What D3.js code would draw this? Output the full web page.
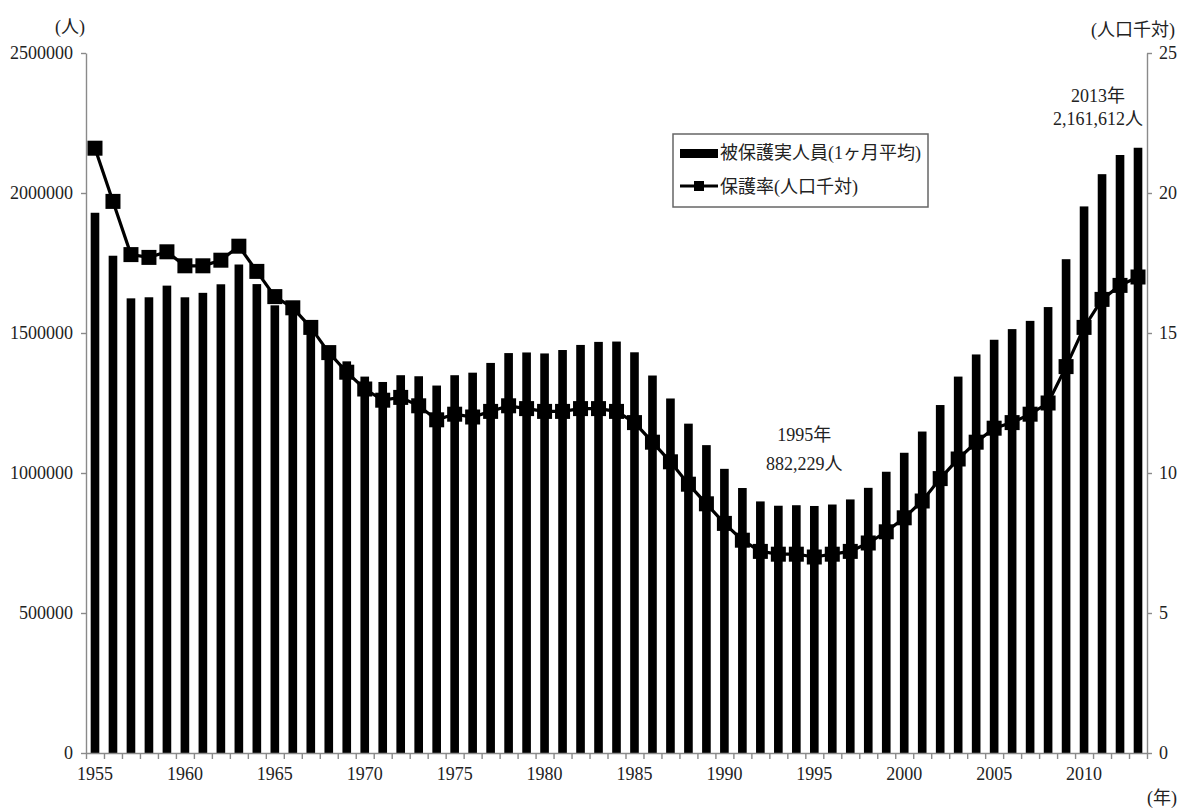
<!DOCTYPE html>
<html lang="ja">
<head>
<meta charset="utf-8">
<script src="https://cdn.jsdelivr.net/npm/d3@7"></script>
<style>
  html, body { margin: 0; padding: 0; background: #fff; }
  svg text { font-family: "Liberation Serif", "Noto Sans CJK JP", serif; fill: #222; }
</style>
</head>
<body>
<svg id="chart" width="1180" height="809"></svg>
<script>
// 生活保護 被保護実人員（1ヶ月平均）と保護率（人口千対）の推移
const years = d3.range(1955, 2014);

const recipients = [
  1929408, 1775971, 1623744, 1627571, 1669180, 1627509, 1643445, 1674001, 1744639, 1674661,
  1598821, 1570054, 1520733, 1449970, 1398725, 1344306, 1325089, 1349230, 1345549, 1312339,
  1349230, 1358316, 1393128, 1428261, 1430488, 1426984, 1439226, 1457383, 1468245, 1469457,
  1431117, 1348163, 1266126, 1176258, 1099520, 1014842,  946374,  898499,  883112,  884912,
   882229,  887450,  905589,  946994, 1004472, 1072241, 1148088, 1242723, 1344327, 1423388,
  1475838, 1513892, 1543321, 1592620, 1763572, 1952063, 2067244, 2135708, 2161612
];

const rates = [
  21.6, 19.7, 17.8, 17.7, 17.9, 17.4, 17.4, 17.6, 18.1, 17.2,
  16.3, 15.9, 15.2, 14.3, 13.6, 13.0, 12.6, 12.7, 12.4, 11.9,
  12.1, 12.0, 12.2, 12.4, 12.3, 12.2, 12.2, 12.3, 12.3, 12.2,
  11.8, 11.1, 10.4,  9.6,  8.9,  8.2,  7.6,  7.2,  7.1,  7.1,
   7.0,  7.1,  7.2,  7.5,  7.9,  8.4,  9.0,  9.8, 10.5, 11.1,
  11.6, 11.8, 12.1, 12.5, 13.8, 15.2, 16.2, 16.7, 17.0
];

const leftTicks = [0, 500000, 1000000, 1500000, 2000000, 2500000];
const rightTicks = [0, 5, 10, 15, 20, 25];
const yearLabels = years.filter(y => y % 5 === 0);

const seriesNames = ["被保護実人員(1ヶ月平均)", "保護率(人口千対)"];
const leftUnit = "(人)";
const rightUnit = "(人口千対)";
const xUnit = "(年)";
const callouts = [
  { year: 1995, dx: -10, y1: 435, y2: 464 },
  { year: 2013, dx: -40, y1: 96, y2: 119 }
];

const svg = d3.select("#chart");
const plot = { left: 86, right: 1147, top: 53, bottom: 753 };
const axisGrey = "#8a8a8a";

const x = d3.scaleBand()
  .domain(years)
  .range([plot.left, plot.right])
  .paddingInner(0.52)
  .paddingOuter(0.26);

const xEdge = d3.scaleLinear()
  .domain([0, years.length])
  .range([plot.left, plot.right]);

const yL = d3.scaleLinear().domain([0, 2500000]).range([plot.bottom, plot.top]);
const yR = d3.scaleLinear().domain([0, 25]).range([plot.bottom, plot.top]);

const cx = yr => x(yr) + x.bandwidth() / 2;

// bars
svg.append("g")
  .selectAll("rect")
  .data(years)
  .join("rect")
  .attr("x", d => x(d))
  .attr("y", (d, i) => yL(recipients[i]))
  .attr("width", x.bandwidth())
  .attr("height", (d, i) => yL(0) - yL(recipients[i]))
  .attr("fill", "#000");

// axes
function styleAxis(g) {
  g.selectAll("path, line").attr("stroke", axisGrey).attr("stroke-width", 1.4);
  g.selectAll("text").attr("fill", "#222").style("font-size", "18px");
}

svg.append("g")
  .attr("transform", `translate(${plot.left},0)`)
  .call(d3.axisLeft(yL).tickValues(leftTicks).tickFormat(d3.format("d")).tickSize(5).tickSizeOuter(0).tickPadding(8))
  .call(styleAxis);

svg.append("g")
  .attr("transform", `translate(${plot.right},0)`)
  .call(d3.axisRight(yR).tickValues(rightTicks).tickFormat(d3.format("d")).tickSize(5).tickSizeOuter(0).tickPadding(7))
  .call(styleAxis);

// category boundary ticks on the baseline
svg.append("g")
  .attr("transform", `translate(0,${plot.bottom})`)
  .call(d3.axisBottom(xEdge).tickValues(d3.range(years.length + 1)).tickFormat("").tickSize(6).tickSizeOuter(0))
  .call(styleAxis);

// year labels every five years
svg.append("g")
  .attr("transform", `translate(0,${plot.bottom})`)
  .call(d3.axisBottom(x).tickValues(yearLabels).tickSize(0).tickPadding(14))
  .call(g => g.select(".domain").remove())
  .call(styleAxis);

// rate line with square markers
const line = d3.line()
  .x((d, i) => cx(years[i]))
  .y(d => yR(d));

svg.append("path")
  .datum(rates)
  .attr("d", line)
  .attr("fill", "none")
  .attr("stroke", "#000")
  .attr("stroke-width", 3.2);

const ms = 15;
svg.append("g")
  .selectAll("rect")
  .data(rates)
  .join("rect")
  .attr("x", (d, i) => cx(years[i]) - ms / 2)
  .attr("y", d => yR(d) - ms / 2)
  .attr("width", ms)
  .attr("height", ms)
  .attr("fill", "#000");

// unit labels
svg.append("text").attr("x", 70).attr("y", 27).attr("dy", "0.35em").attr("text-anchor", "middle")
  .style("font-size", "18px").text(leftUnit);
svg.append("text").attr("x", 1133).attr("y", 30).attr("dy", "0.35em").attr("text-anchor", "middle")
  .style("font-size", "18px").text(rightUnit);
svg.append("text").attr("x", 1162).attr("y", 798).attr("dy", "0.35em").attr("text-anchor", "middle")
  .style("font-size", "18px").text(xUnit);

// callouts
callouts.forEach(c => {
  const i = years.indexOf(c.year);
  const tx = cx(c.year) + c.dx;
  svg.append("text").attr("x", tx).attr("y", c.y1).attr("text-anchor", "middle")
    .attr("dy", "0.35em").style("font-size", "18px").text(`${c.year}年`);
  svg.append("text").attr("x", tx).attr("y", c.y2).attr("text-anchor", "middle")
    .attr("dy", "0.35em").style("font-size", "18px").text(`${d3.format(",")(recipients[i])}人`);
});

// legend
const lg = svg.append("g");
lg.append("rect")
  .attr("x", 673).attr("y", 134).attr("width", 255).attr("height", 73)
  .attr("fill", "#fff").attr("stroke", "#666").attr("stroke-width", 1.5);
lg.append("rect")
  .attr("x", 680).attr("y", 149).attr("width", 38).attr("height", 9).attr("fill", "#000");
lg.append("line")
  .attr("x1", 680).attr("x2", 718).attr("y1", 186).attr("y2", 186)
  .attr("stroke", "#000").attr("stroke-width", 3.2);
lg.append("rect")
  .attr("x", 694).attr("y", 181).attr("width", 10).attr("height", 10).attr("fill", "#000");
lg.selectAll("text.lab")
  .data(seriesNames)
  .join("text")
  .attr("class", "lab")
  .attr("x", 720)
  .attr("y", (d, i) => 153 + i * 34)
  .attr("dy", "0.35em")
  .style("font-size", "18px")
  .text(d => d);
</script>
</body>
</html>
